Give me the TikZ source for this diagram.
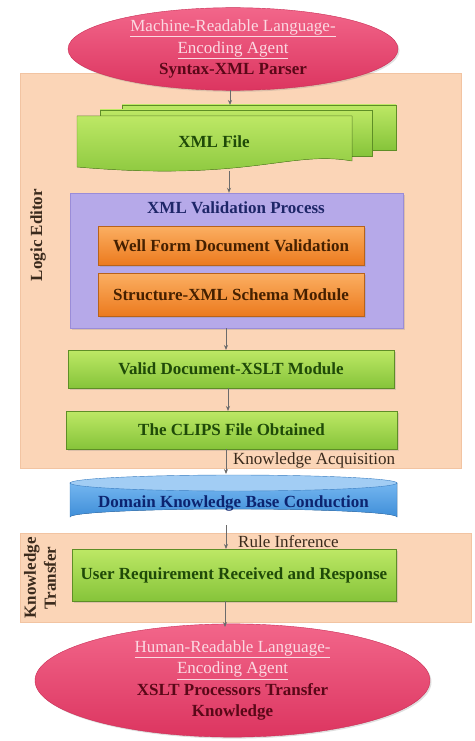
\documentclass[tikz,border=0pt]{standalone}
\usepackage{fontspec}
\setmainfont{Liberation Serif}
\usetikzlibrary{shapes.geometric,arrows.meta,shadows}

\definecolor{peach}{HTML}{FBD5B7}
\definecolor{peachline}{HTML}{F2C4A2}
\definecolor{pinktop}{HTML}{F2668A}
\definecolor{pinkbot}{HTML}{DC3560}
\definecolor{pinkline}{HTML}{C92E55}
\definecolor{pinktext}{HTML}{FBD9E2}
\definecolor{redtext}{HTML}{5A0818}
\definecolor{greentop}{HTML}{BDE865}
\definecolor{greenbot}{HTML}{86C43A}
\definecolor{greenline}{HTML}{5E8E26}
\definecolor{greentext}{HTML}{1F4A08}
\definecolor{lavender}{HTML}{B6A9E9}
\definecolor{lavline}{HTML}{9A8CD8}
\definecolor{navytext}{HTML}{1E2668}
\definecolor{orangetop}{HTML}{FBAF62}
\definecolor{orangebot}{HTML}{EC7A1E}
\definecolor{orangeline}{HTML}{B8621A}
\definecolor{browntext}{HTML}{452000}
\definecolor{bluetop}{HTML}{74B6F0}
\definecolor{bluebot}{HTML}{3F8ED8}
\definecolor{bluelid}{HTML}{A2CDF4}
\definecolor{blueline}{HTML}{3A7EC2}
\definecolor{bluetext}{HTML}{0C2470}
\definecolor{arrowgray}{HTML}{6B6B6B}
\definecolor{darktext}{HTML}{3A2A1C}

\begin{document}
\begin{tikzpicture}[x=1pt,y=-1pt,
  every node/.style={font=\fontsize{17}{19.5}\selectfont, inner sep=0pt},
  softshadow/.style={drop shadow={opacity=0.25, shadow xshift=1.5pt, shadow yshift=-1.5pt}},
  greenbox/.style={draw=greenline, top color=greentop, bottom color=greenbot, softshadow,
    text=greentext, font=\fontsize{17}{19.5}\selectfont\bfseries},
  orangebox/.style={draw=orangeline, top color=orangetop, bottom color=orangebot, softshadow,
    text=browntext, font=\fontsize{17}{19.5}\selectfont\bfseries},
  agent/.style={ellipse, draw=pinkline, top color=pinktop, bottom color=pinkbot, softshadow,
    align=center, font=\fontsize{17}{21.5}\selectfont},
  arr/.style={draw=arrowgray, line width=0.8pt, -{Stealth[length=5pt,width=4pt]}},
  sidelabel/.style={rotate=90, text=darktext, font=\fontsize{17}{20}\selectfont\bfseries, align=center}]

\useasboundingbox (0,0) rectangle (474,741);

% panels
\filldraw[fill=peach, draw=peachline] (20,73) rectangle (461,468);
\filldraw[fill=peach, draw=peachline] (20,533) rectangle (471,622);
\node[sidelabel] (logiclbl) at (38,235) {Logic Editor};
\node[sidelabel] (translbl) at (40,578) {Knowledge\\Transfer};

% top agent
\node[agent, minimum width=330, minimum height=82] (mla) at (233,49)
  {\textcolor{pinktext}{\underline{Machine-Readable Language-}}\\
   \textcolor{pinktext}{\underline{Encoding Agent}}\\
   \textcolor{redtext}{\bfseries Syntax-XML Parser}};

% xml file stack
\filldraw[draw=greenline, top color=greentop, bottom color=greenbot] (122,105) rectangle (396,150);
\filldraw[draw=greenline, top color=greentop, bottom color=greenbot] (100,110) rectangle (372,156);
\filldraw[draw=greenline, top color=greentop, bottom color=greenbot]
  (77,116) -- (352,116) -- (352,161) .. controls (290,150) and (250,182) .. (77,167) -- cycle;
\node[text=greentext, font=\fontsize{17}{19.5}\selectfont\bfseries] (xml) at (214,142) {XML File};
\coordinate (xmltop) at (230,105);
\coordinate (xmlbot) at (229,171);

% validation process
\node[draw=lavline, fill=lavender, softshadow, minimum width=333, minimum height=135] (valproc) at (236.5,260.5) {};
\node[text=navytext, font=\fontsize{17}{19.5}\selectfont\bfseries] (valtitle) at (236,208) {XML Validation Process};
\node[orangebox, minimum width=266, minimum height=39] (wf) at (231,245.5) {Well Form Document Validation};
\node[orangebox, minimum width=266, minimum height=43] (sx) at (231,294.5) {Structure-XML Schema Module};

\node[greenbox, minimum width=326, minimum height=38] (vd) at (231,369) {Valid Document-XSLT Module};
\node[greenbox, minimum width=331, minimum height=38] (clips) at (231.5,430) {The CLIPS File Obtained};

% knowledge base cylinder
\node[minimum width=327, minimum height=50] (kb) at (233.5,500) {};
\filldraw[draw=blueline, top color=bluetop, bottom color=bluebot]
  (70,483) -- (70,517) arc[start angle=180, end angle=360, x radius=163.5, y radius=8]
  -- (397,483) -- cycle;
\filldraw[draw=blueline, fill=bluelid] (233.5,483) ellipse [x radius=163.5, y radius=8];
\node[text=bluetext, font=\fontsize{17}{19.5}\selectfont\bfseries] (kbtext) at (233.5,503) {Domain Knowledge Base Conduction};

\node[greenbox, minimum width=324, minimum height=52] (ur) at (234,575) {User Requirement Received and Response};

% bottom agent
\node[agent, minimum width=395, minimum height=105] (hra) at (232.5,680.5)
  {\textcolor{pinktext}{\underline{Human-Readable Language-}}\\
   \textcolor{pinktext}{\underline{Encoding Agent}}\\
   \textcolor{redtext}{\bfseries XSLT Processors Transfer}\\
   \textcolor{redtext}{\bfseries Knowledge}};

% arrows
\draw[arr] (230,90) -- (xmltop);
\draw[arr] (xmlbot) -- (xmlbot |- valproc.north);
\draw[arr] (226,328) -- (226,350);
\draw[arr] (228,388) -- (228,411);
\draw[arr] (226,449) -- (226,474);
\node[anchor=west, text=darktext] (acq) at (233,460) {Knowledge Acquisition};
\draw[arr] (226,525) -- (226,549);
\node[anchor=west, text=darktext] (rule) at (238,542) {Rule Inference};
\draw[arr] (225,601) -- (225,627);
\end{tikzpicture}
\end{document}
